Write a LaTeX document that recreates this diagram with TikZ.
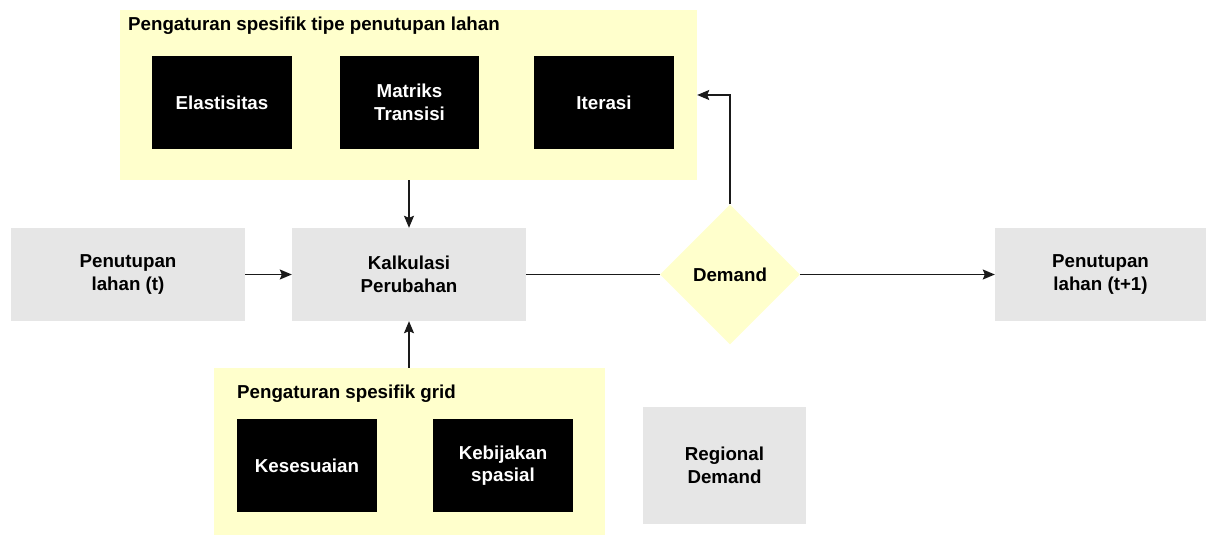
\documentclass[tikz,border=0pt]{standalone}
\usepackage{fontspec}
\setmainfont{Liberation Sans}
\usetikzlibrary{arrows.meta,shapes.geometric}
\definecolor{ylw}{HTML}{FFFFCC}
\definecolor{gry}{HTML}{E6E6E6}
\definecolor{ln}{HTML}{1A1A1A}
\begin{document}
\begin{tikzpicture}[x=1bp,y=-1bp,
  txt/.style={font=\bfseries\fontsize{18.8}{22.5}\selectfont, align=center},
  panel/.style={fill=ylw, draw=none, inner sep=0pt},
  blk/.style={fill=black, draw=none, text=white, txt, inner sep=0pt, minimum width=140bp, minimum height=93bp},
  gbox/.style={fill=gry, draw=none, txt, inner sep=0pt, minimum height=93bp},
  conn/.style={draw=ln, line width=1.4bp},
  arr/.style={conn, -{Stealth[length=12bp,width=10bp,inset=2bp]}}]
\useasboundingbox (0,0) rectangle (1206,535);
% panels
\node[panel, minimum width=577bp, minimum height=170bp] (top) at (408.5,95) {};
\node[txt, anchor=base west, inner sep=0pt] (toptitle) at (128,31) {Pengaturan spesifik tipe penutupan lahan};
\node[blk] (elas) at (222,102.5) {Elastisitas};
\node[blk, minimum width=139bp] (mat) at (409.5,102.5) {Matriks\\Transisi};
\node[blk] (iter) at (604,102.5) {Iterasi};
\node[panel, minimum width=391bp, minimum height=167bp] (bot) at (409.5,451.5) {};
\node[txt, anchor=base west, inner sep=0pt] (bottitle) at (237,398) {Pengaturan spesifik grid};
\node[blk] (kes) at (307,465.5) {Kesesuaian};
\node[blk] (keb) at (503,465.5) {Kebijakan\\spasial};
% main row
\node[gbox, minimum width=234bp] (pt) at (128,274.5) {Penutupan\\lahan (t)};
\node[gbox, minimum width=234bp] (kalk) at (409,274.5) {Kalkulasi\\Perubahan};
\node[diamond, aspect=1, fill=ylw, draw=none, txt, inner sep=0pt, minimum width=140bp, minimum height=140bp] (dem) at (730,274.5) {Demand};
\node[gbox, minimum width=211bp] (pt1) at (1100.5,274.5) {Penutupan\\lahan (t+1)};
\node[gbox, minimum width=163bp, minimum height=117bp] (reg) at (724.5,465.5) {Regional\\Demand};
% connectors
\draw[arr] (kalk.north |- top.south) -- (kalk.north);
\draw[arr] (kalk.south |- bot.north) -- (kalk.south);
\draw[arr] (pt.east) -- (kalk.west);
\draw[conn] (kalk.east) -- (dem.west);
\draw[arr] (dem.east) -- (pt1.west);
\draw[arr] (dem.north) |- (top.east);
\end{tikzpicture}
\end{document}
